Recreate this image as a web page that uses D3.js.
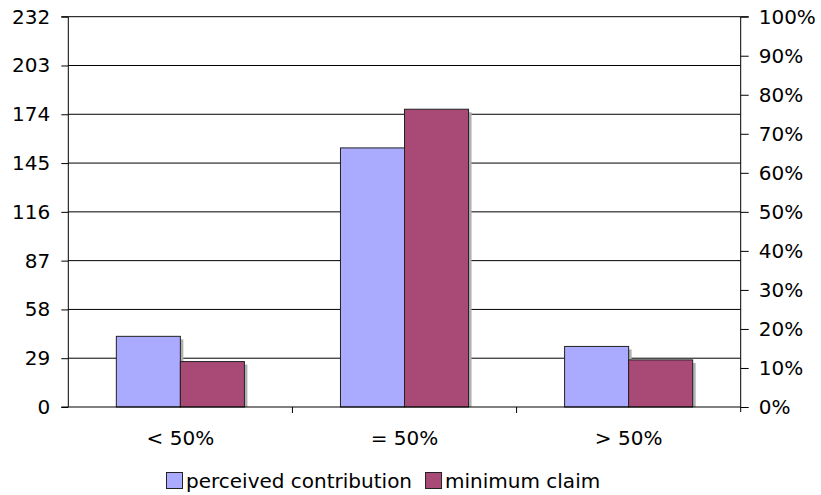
<!DOCTYPE html>
<html>
<head>
<meta charset="utf-8">
<script src="https://cdn.jsdelivr.net/npm/d3@7"></script>
<style>
  html, body { margin: 0; padding: 0; background: #fff; }
  svg { display: block; font-family: "DejaVu Sans", Verdana, sans-serif; }
</style>
</head>
<body>
<svg id="chart" width="821" height="495"></svg>
<script>
// Categories and counts per series (each series sums to the total of 232)
const categories = ["< 50%", "= 50%", "> 50%"];
const seriesNames = ["perceived contribution", "minimum claim"];
const perceived = [42, 154, 36];
const minimumClaim = [27, 177, 28];
const leftTicks = [0, 29, 58, 87, 116, 145, 174, 203, 232];
const rightTicks = [0, 0.1, 0.2, 0.3, 0.4, 0.5, 0.6, 0.7, 0.8, 0.9, 1.0];
const colors = ["#aaaaff", "#a94a76"];
const FS = 20;

const svg = d3.select("#chart");
const W = 821, H = 495;
const x0 = 68.3, x1 = 740.7;
const y0 = 407, y1 = 16.7;

const x = d3.scaleBand().domain(categories).range([x0, x1]).paddingInner(0).paddingOuter(0);
const xs = d3.scaleBand().domain(seriesNames).range([0, x.bandwidth()]).paddingInner(0).paddingOuter(0.75);
const y = d3.scaleLinear().domain([0, 232]).range([y0, y1]);
const yr = d3.scaleLinear().domain([0, 1]).range([y0, y1]);

// Horizontal gridlines
svg.append("g").selectAll("line").data(leftTicks.slice(1)).join("line")
  .attr("x1", x0).attr("x2", x1)
  .attr("y1", d => y(d)).attr("y2", d => y(d))
  .attr("stroke", "#000").attr("stroke-width", 1);

// Bars with a soft drop shadow
const rows = categories.map((c, i) => ({ c, vals: [perceived[i], minimumClaim[i]] }));
const groups = svg.append("g").selectAll("g").data(rows).join("g")
  .attr("transform", d => `translate(${x(d.c)},0)`);

groups.selectAll("rect.shadow").data(d => d.vals.map((v, j) => ({ v, s: seriesNames[j], j }))).join("rect")
  .attr("class", "shadow")
  .attr("x", d => xs(d.s) + 3).attr("y", d => y(d.v) + 3)
  .attr("width", xs.bandwidth()).attr("height", d => y0 - y(d.v) - 3)
  .attr("fill", "#b0b0b0");

groups.selectAll("rect.bar").data(d => d.vals.map((v, j) => ({ v, s: seriesNames[j], j }))).join("rect")
  .attr("class", "bar")
  .attr("x", d => xs(d.s)).attr("y", d => y(d.v))
  .attr("width", xs.bandwidth()).attr("height", d => y0 - y(d.v))
  .attr("fill", d => colors[d.j])
  .attr("stroke", "#222").attr("stroke-width", 1);

// Left axis
const leftAxis = d3.axisLeft(y).tickValues(leftTicks).tickSize(7).tickPadding(11).tickFormat(d3.format("d"));
const gl = svg.append("g").attr("transform", `translate(${x0},0)`).call(leftAxis);
gl.select(".domain").attr("d", `M-7,${y1}H0V${y0}H-7`);

// Right axis (percent)
const rightAxis = d3.axisRight(yr).tickValues(rightTicks).tickSize(8).tickPadding(10).tickFormat(d3.format(".0%"));
const gr = svg.append("g").attr("transform", `translate(${x1},0)`).call(rightAxis);
gr.select(".domain").attr("d", `M8,${y1}H0V${y0 + 5}`);

// Bottom axis with category separators
const gb = svg.append("g");
gb.append("line").attr("x1", x0).attr("x2", x1).attr("y1", y0).attr("y2", y0).attr("stroke", "#000");
gb.selectAll("line.sep").data(categories.slice(1)).join("line")
  .attr("class", "sep")
  .attr("x1", d => x(d)).attr("x2", d => x(d))
  .attr("y1", y0).attr("y2", y0 + 6).attr("stroke", "#000");
gb.selectAll("text").data(categories).join("text")
  .attr("x", d => x(d) + x.bandwidth() / 2).attr("y", 445)
  .attr("text-anchor", "middle").attr("font-size", FS).attr("fill", "#000")
  .text(d => d);

svg.selectAll(".tick text").attr("font-size", FS).attr("fill", "#000").attr("font-family", "DejaVu Sans, Verdana, sans-serif");
svg.selectAll(".tick line, .domain").attr("stroke", "#000");

// Legend
const legend = svg.append("g").attr("transform", "translate(166,472)");
let lx = 0;
seriesNames.forEach((name, i) => {
  const g = legend.append("g").attr("transform", `translate(${lx},0)`);
  g.append("rect").attr("x", 0.5).attr("y", 0.5).attr("width", 16).attr("height", 16)
    .attr("fill", colors[i]).attr("stroke", "#222");
  const t = g.append("text").attr("x", 20).attr("y", 15.5).attr("font-size", FS).attr("fill", "#000").text(name);
  lx += 20 + t.node().getComputedTextLength() + 13;
});
</script>
</body>
</html>
